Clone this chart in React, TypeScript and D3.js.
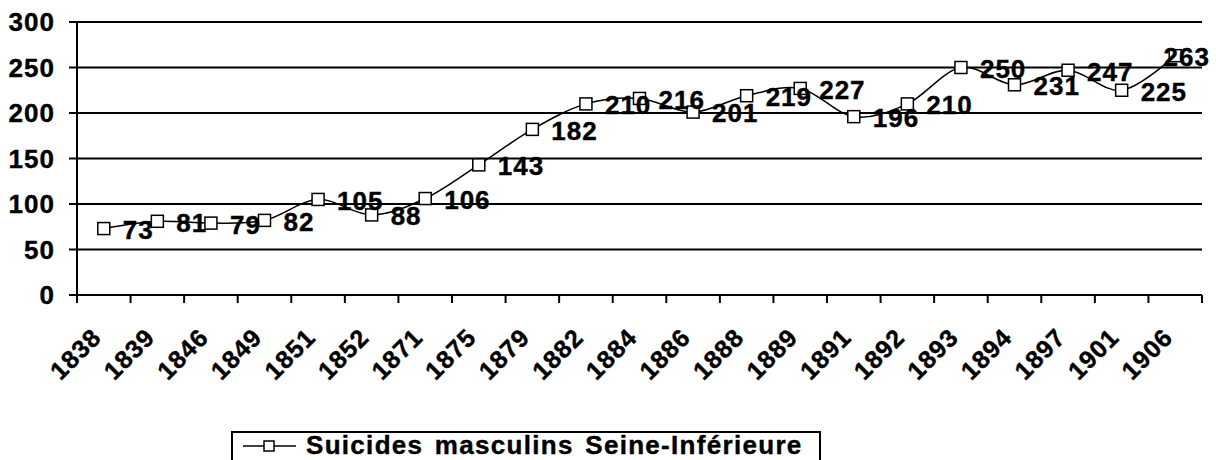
import * as d3 from "d3";

// categories (years) and values
const years = ["1838", "1839", "1846", "1849", "1851", "1852", "1871", "1875", "1879", "1882", "1884",
  "1886", "1888", "1889", "1891", "1892", "1893", "1894", "1897", "1901", "1906"];
const suicides = [73, 81, 79, 82, 105, 88, 106, 143, 182, 210, 216, 201, 219, 227, 196, 210, 250, 231, 247, 225, 263];
const yTicks = [0, 50, 100, 150, 200, 250, 300];
const seriesName = "Suicides masculins Seine-Inférieure";

export default function App({
  width = 1216,
  height = 460,
  marginTop = 22,
  marginRight = 14,
  marginBottom = 165,
  marginLeft = 77
}) {
  const font = "'Liberation Sans', Arial, sans-serif";
  const fontSize = 26;
  const spacing = 1;
  // a thin outline makes the text look as heavy as the reference
  const heavy = { stroke: "black", strokeWidth: 0.4 };

  // x scale: one band per year, y scale linear 0..300
  const x = d3.scaleBand(years, [marginLeft, width - marginRight]);
  const y = d3.scaleLinear([0, 300], [height - marginBottom, marginTop]);
  const cx = (i: number) => x(years[i])! + x.bandwidth() / 2;
  const y0 = y(0);

  // smoothed line like excel
  const line = d3.line<number>()
    .x((d, i) => cx(i))
    .y(d => y(d))
    .curve(d3.curveCardinal.tension(0));

  const bounds = [...years.map(yr => x(yr)!), width - marginRight];
  const right = width - marginRight;

  return (
    <div>
      <style>{`body{margin:0}`}</style>
      <svg width={width} height={height} style={{ display: "block", fontFamily: font, fontWeight: "bold" }}>
        <rect width={width} height={height} fill="white" />

        {/* grid lines and y axis */}
        {yTicks.map(t => (
          <g key={t}>
            <line x1={marginLeft - 8} x2={right} y1={y(t)} y2={y(t)} stroke="black" strokeWidth={2} />
            <text x={55} y={y(t)} dy="0.36em" textAnchor="end" fontSize={fontSize} letterSpacing={spacing} {...heavy}>{t}</text>
          </g>
        ))}
        <line x1={marginLeft} x2={marginLeft} y1={marginTop} y2={y0 + 8} stroke="black" strokeWidth={2} />

        {/* x ticks between categories */}
        {bounds.map((b, i) => (
          <line key={i} x1={b} x2={b} y1={y0} y2={y0 + 8} stroke="black" strokeWidth={2} />
        ))}
        {years.map((yr, i) => (
          <text key={yr} transform={`translate(${cx(i) - 1},${y0 + 44}) rotate(-45)`} textAnchor="end"
            fontSize={fontSize - 1} letterSpacing={spacing} {...heavy}>{yr}</text>
        ))}

        {/* series */}
        <path d={line(suicides)!} fill="none" stroke="black" strokeWidth={1.5} />
        {suicides.map((d, i) => (
          <rect key={i} x={cx(i) - 6} y={y(d) - 6} width={12} height={12} fill="white" stroke="black" strokeWidth={1.5} />
        ))}
        {suicides.map((d, i) => {
          const w = String(d).length * (fontSize * 0.556 + spacing);
          const over = cx(i) + 19 + w > right + 8;
          return (
            <text key={i} x={over ? right + 8 : cx(i) + 19} y={y(d)} dy="0.4em" textAnchor={over ? "end" : "start"}
              fontSize={fontSize} letterSpacing={spacing} {...heavy}>{d}</text>
          );
        })}

        {/* legend */}
        <rect x={232} y={432} width={588} height={40} fill="white" stroke="black" strokeWidth={2} />
        <line x1={243} x2={296} y1={446} y2={446} stroke="black" strokeWidth={1.5} />
        <rect x={264} y={441} width={10} height={10} fill="white" stroke="black" strokeWidth={1.5} />
        <text x={306} y={454} fontSize={fontSize} letterSpacing={1.3} wordSpacing={3} {...heavy}>{seriesName}</text>
      </svg>
    </div>
  );
}
